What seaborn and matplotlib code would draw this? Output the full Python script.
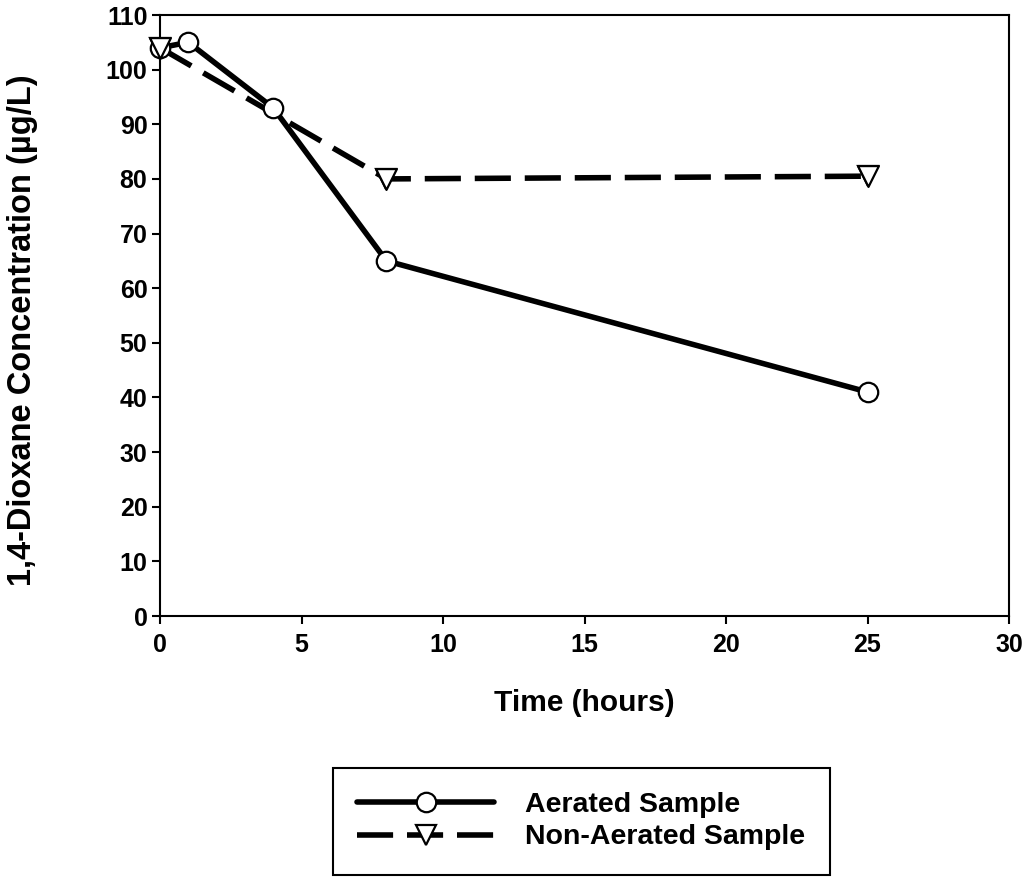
import matplotlib
matplotlib.use("Agg")
import matplotlib.pyplot as plt
import seaborn as sns
import pandas as pd

# Data
aerated_time = [0, 1, 4, 8, 25]
aerated_conc = [104, 105, 93, 65, 41]
nonaerated_time = [0, 8, 25]
nonaerated_conc = [104, 80, 80.5]
x_ticks = [0, 5, 10, 15, 20, 25, 30]
y_ticks = [0, 10, 20, 30, 40, 50, 60, 70, 80, 90, 100, 110]

sns.set_theme(style="white")
plt.rcParams['font.family'] = ['Liberation Sans', 'DejaVu Sans']
plt.rcParams['font.weight'] = 'bold'

df_a = pd.DataFrame({"Time": aerated_time, "Conc": aerated_conc})
df_n = pd.DataFrame({"Time": nonaerated_time, "Conc": nonaerated_conc})

W, H = 1027, 877
fig = plt.figure(figsize=(W / 100, H / 100), dpi=100)
ax = fig.add_axes([160 / W, 1 - 616 / H, (1009 - 160) / W, (616 - 15) / H])

LW = 4.0
# Non-aerated line (behind), markers drawn on top afterwards
sns.lineplot(data=df_n, x="Time", y="Conc", ax=ax, color="black", lw=LW,
             marker="v", markersize=15, markerfacecolor="white",
             markeredgecolor="black", markeredgewidth=1.6,
             label="Non-Aerated Sample", zorder=2)
ax.lines[-1].set_dashes((6.5, 2.5))
sns.lineplot(data=df_a, x="Time", y="Conc", ax=ax, color="black", lw=LW,
             marker="o", markersize=14, markerfacecolor="white",
             markeredgecolor="black", markeredgewidth=1.6,
             label="Aerated Sample", zorder=3)
sns.scatterplot(data=df_n, x="Time", y="Conc", ax=ax, marker="v", s=225,
                facecolor="white", edgecolor="black", linewidth=1.6,
                zorder=5, legend=False, clip_on=False)

ax.set_xlim(0, 30)
ax.set_ylim(0, 110)
ax.set_xticks(x_ticks)
ax.set_yticks(y_ticks)
ax.tick_params(axis='both', direction='out', length=6, width=1.5,
               labelsize=18, color='black', labelcolor='black',
               bottom=True, left=True)
ax.tick_params(axis='x', pad=6)
ax.tick_params(axis='y', pad=3)
for lbl in ax.get_xticklabels() + ax.get_yticklabels():
    lbl.set_fontweight('bold')
for s in ax.spines.values():
    s.set_visible(True)
    s.set_color('black')
    s.set_linewidth(1.5)
for ln in ax.lines:
    ln.set_clip_on(False)

ax.set_xlabel("Time (hours)", fontsize=21.5, fontweight='bold', color='black')
ax.xaxis.label.set_verticalalignment('center')
ax.xaxis.set_label_coords(0.5, (616 - 703) / 601)
ax.set_ylabel("1,4-Dioxane Concentration (\u00b5g/L)", fontsize=23.5,
              fontweight='bold', color='black')
ax.yaxis.label.set_verticalalignment('center')
ax.yaxis.set_label_coords((23 - 160) / 849, (616 - 330) / 601)

h, l = ax.get_legend_handles_labels()
ax.get_legend().remove()
order = [l.index("Aerated Sample"), l.index("Non-Aerated Sample")]
leg = fig.legend([h[i] for i in order], [l[i] for i in order],
                 loc='upper left', bbox_to_anchor=(333 / W, 1 - 768 / H),
                 fontsize=20.5, frameon=True, fancybox=False, framealpha=1,
                 edgecolor='black', handlelength=4.8, handletextpad=1.1,
                 borderpad=0.85, labelspacing=0.22, borderaxespad=0)
leg.get_frame().set_linewidth(1.5)
for t in leg.get_texts():
    t.set_fontweight('bold')
    t.set_color('black')

fig.savefig("out.png", dpi=100, facecolor='white')
